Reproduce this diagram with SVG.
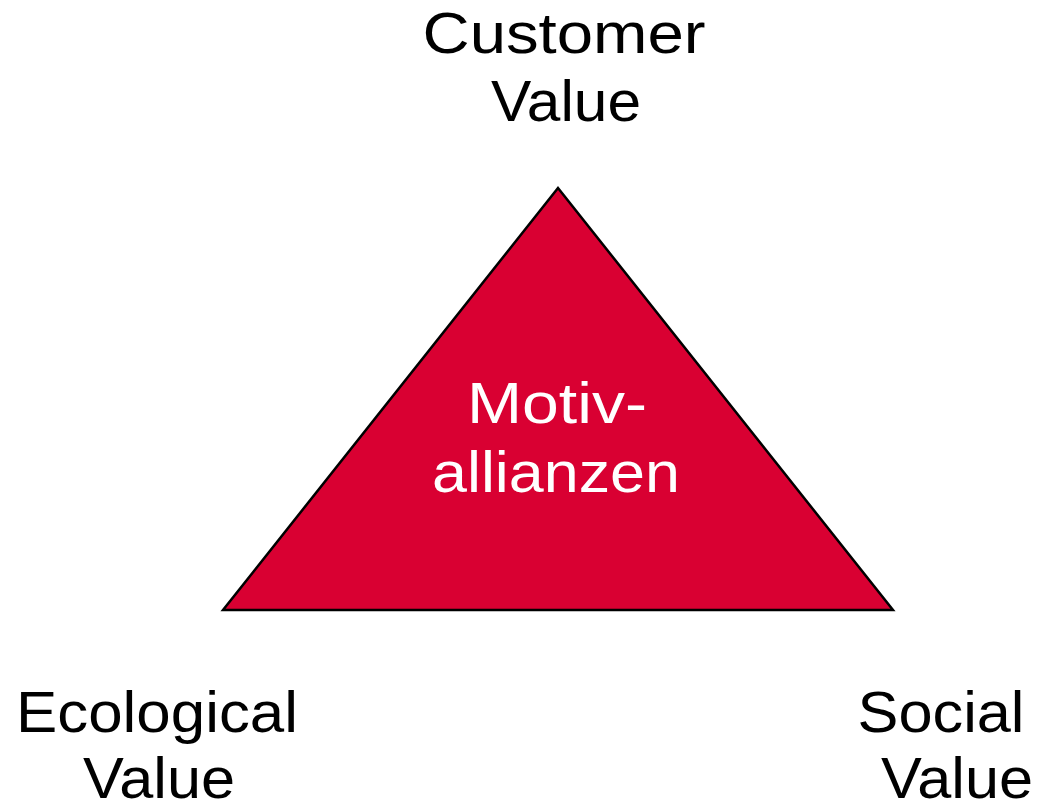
<svg xmlns="http://www.w3.org/2000/svg" width="1037" height="805" viewBox="0 0 1037 805">
  <style>
    .lbl { font-family: "Liberation Sans", Arial, sans-serif; font-size: 58px; fill: #000; text-anchor: middle; }
    .inner { fill: #fff; }
    .tri { fill: #D90032; stroke: #000; stroke-width: 2.5; stroke-linejoin: miter; }
  </style>
  <rect width="1037" height="805" fill="#fff"/>
  <g id="triangle">
    <polygon class="tri" points="558,188 893,610 223,610"/>
    <text class="lbl inner" x="557" y="423" textLength="180" lengthAdjust="spacingAndGlyphs">Motiv-</text>
    <text class="lbl inner" x="556" y="492" textLength="248" lengthAdjust="spacingAndGlyphs">allianzen</text>
  </g>
  <g id="customer-value">
    <text class="lbl" x="564" y="53" textLength="283" lengthAdjust="spacingAndGlyphs">Customer</text>
    <text class="lbl" x="566" y="121" textLength="150" lengthAdjust="spacingAndGlyphs">Value</text>
  </g>
  <g id="ecological-value">
    <text class="lbl" x="157" y="732" textLength="282" lengthAdjust="spacingAndGlyphs">Ecological</text>
    <text class="lbl" x="159" y="798" textLength="152" lengthAdjust="spacingAndGlyphs">Value</text>
  </g>
  <g id="social-value">
    <text class="lbl" x="941" y="732" textLength="167" lengthAdjust="spacingAndGlyphs">Social</text>
    <text class="lbl" x="957" y="798" textLength="152" lengthAdjust="spacingAndGlyphs">Value</text>
  </g>
</svg>
